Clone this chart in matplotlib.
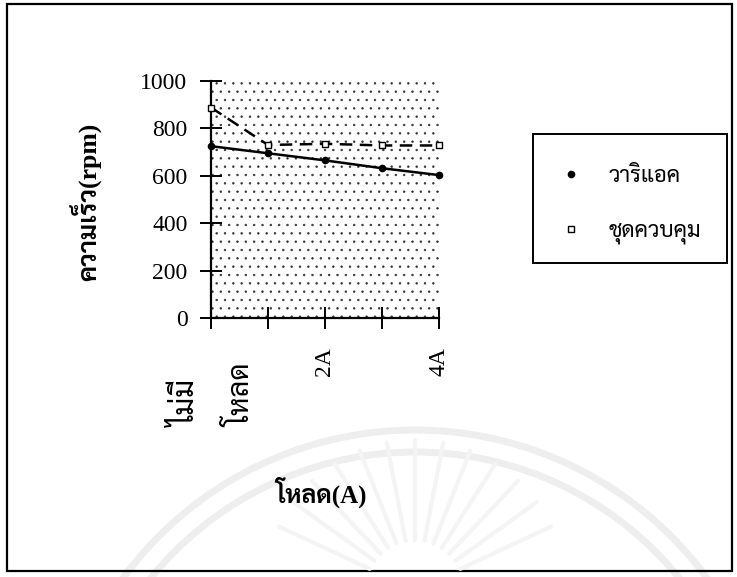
import numpy as np
import matplotlib
matplotlib.use("Agg")
import matplotlib.pyplot as plt
from matplotlib.lines import Line2D
from matplotlib.patches import Rectangle, Arc
import matplotlib.transforms as mtransforms

# ---- data ----
categories = ["ไม่มี\nโหลด", "1A", "2A", "3A", "4A"]
variac_rpm = [725, 695, 665, 632, 603]
controller_rpm = [888, 730, 735, 728, 728]
series_names = ["วาริแอค", "ชุดควบคุม"]
y_ticks = [0, 200, 400, 600, 800, 1000]
y_label = "ความเร็ว(rpm)"
x_label = "โหลด(A)"

W, H = 737, 577
fig = plt.figure(figsize=(W / 100, H / 100), dpi=100)
fig.patch.set_facecolor("white")

def fx(px):
    return px / W

def fy(py):
    return 1 - py / H

SERIF_THAI = ["Liberation Serif", "Sarabun", "DejaVu Sans"]
THAI = ["Sarabun", "DejaVu Sans"]

# faint seal watermark behind everything
bg = fig.add_axes([0, 0, 1, 1], zorder=-5)
bg.set_xlim(0, W)
bg.set_ylim(H, 0)
bg.axis("off")
for r in (362, 340):
    bg.add_patch(Arc((415, 792), 2 * r, 2 * r, theta1=180, theta2=360,
                     color="#eeeeee", lw=5))
for ang in np.linspace(205, 335, 13):
    a = np.deg2rad(ang)
    r0, r1 = 50, 150
    bg.plot([415 + r0 * np.cos(a), 415 + r1 * np.cos(a)],
            [590 + r0 * np.sin(a), 590 + r1 * np.sin(a)],
            color="#f4f4f4", lw=3, solid_capstyle="round")
# outer chart border
bg.add_patch(Rectangle((7, 4), 725, 567, fill=False, ec="black", lw=1.6))

# ---- plot area ----
ax = fig.add_axes([fx(211), fy(318), fx(439) - fx(211), fy(81) - fy(318)])
ax.set_xlim(0, len(categories) - 1)
ax.set_ylim(0, 1000)

plt.rcParams["hatch.linewidth"] = 0.5
ax.patch.set_facecolor("white")
ax.add_patch(Rectangle((0, 0), 1, 1, transform=ax.transAxes, facecolor="white",
                       edgecolor="#333333", hatch="..", lw=0, zorder=0))

x = np.arange(len(categories))
ax.plot(x, variac_rpm, color="black", lw=1.8, marker="o", markersize=4.5,
        zorder=3, clip_on=False)
ax.plot(x, controller_rpm, color="black", lw=1.8, ls=(0, (5, 3)), marker="s",
        markersize=5, markerfacecolor="white", markeredgewidth=1.0,
        zorder=3, clip_on=False)

for side in ("top", "right"):
    ax.spines[side].set_visible(False)
for side in ("left", "bottom"):
    ax.spines[side].set_linewidth(1.6)

ax.set_yticks(y_ticks)
ax.set_yticklabels([str(v) for v in y_ticks], fontsize=17,
                   family="Liberation Serif")
ax.tick_params(axis="y", direction="inout", length=16, width=1.4, pad=9)

ax.set_xticks(x)
ax.set_xticklabels(categories, rotation=90, fontsize=17, family=SERIF_THAI,
                   linespacing=2.6, va="top", ha="center", ma="left")
ax.tick_params(axis="x", direction="inout", length=16, width=1.4, pad=13)
for i, lab in enumerate(ax.get_xticklabels()):
    if i % 2 == 1:
        lab.set_visible(False)
first = ax.get_xticklabels()[0]
first.set_fontsize(21)
first.set_linespacing(2.1)
first.set_transform(first.get_transform() +
                    mtransforms.ScaledTranslation(4 / 100, -16 / 100,
                                                  fig.dpi_scale_trans))

# axis titles
fig.text(fx(86), fy(202), y_label, rotation=90, ha="center", va="center",
         fontsize=18.5, fontweight="bold", family=SERIF_THAI)
fig.text(fx(321), fy(492), x_label, ha="center", va="center",
         fontsize=18, fontweight="bold", family=SERIF_THAI)

# legend
handles = [
    Line2D([], [], color="black", ls="None", marker="o", markersize=4.5),
    Line2D([], [], color="black", ls="None", marker="s", markersize=5,
           markerfacecolor="white", markeredgewidth=1.0),
]
bg.add_patch(Rectangle((533, 134), 194, 129, fill=False, ec="black", lw=1.4))
fig.legend(handles, series_names, loc="center left",
           bbox_to_anchor=(fx(549), fy(205)), frameon=False,
           prop={"family": THAI, "size": 16}, handlelength=1.0,
           handletextpad=1.2, labelspacing=1.5, borderpad=0)

fig.savefig("out.png", dpi=100, facecolor="white")
